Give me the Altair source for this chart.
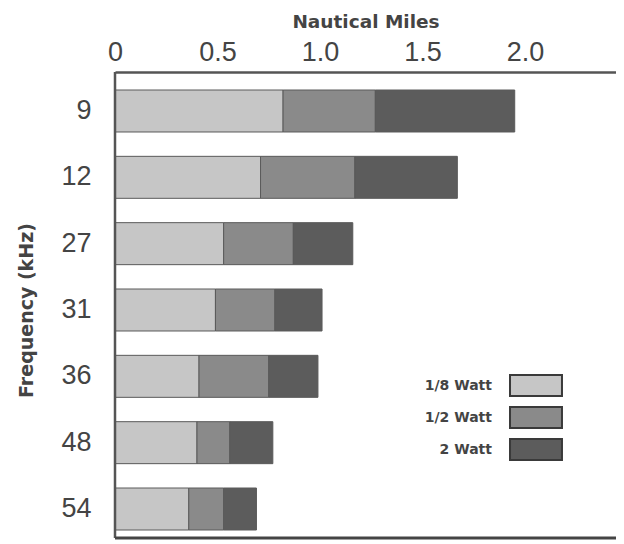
import altair as alt
import pandas as pd

freqs = ["9", "12", "27", "31", "36", "48", "54"]
powers = ["1/8 Watt", "1/2 Watt", "2 Watt"]
# cumulative range (nautical miles) reached with each power level
range_eighth = [0.82, 0.71, 0.53, 0.49, 0.41, 0.40, 0.36]
range_half = [1.27, 1.17, 0.87, 0.78, 0.75, 0.56, 0.53]
range_two = [1.95, 1.67, 1.16, 1.01, 0.99, 0.77, 0.69]
x_ticks = [0, 0.5, 1.0, 1.5, 2.0]
colors = ["#c6c6c6", "#8a8a8a", "#5c5c5c"]

rows = []
for i, f in enumerate(freqs):
    ends = [range_eighth[i], range_half[i], range_two[i]]
    start = 0.0
    for p, e in zip(powers, ends):
        rows.append({"freq": f, "power": p, "start": start, "end": e})
        start = e
df = pd.DataFrame(rows)

W, H = 501, 466
FONT = "Liberation Sans"
TFONT = "DejaVu Sans"
TXT = "#444444"

bars = alt.Chart(df).mark_bar(stroke="#5a5a5a", strokeWidth=1).encode(
    x=alt.X(
        "start:Q",
        scale=alt.Scale(domain=[0, 2.444], nice=False, zero=True),
        axis=alt.Axis(
            orient="top", values=x_ticks, title="Nautical Miles",
            labelExpr="datum.value == 0 ? '0' : format(datum.value, '.1f')",
            labelFlush=False,
            grid=False, ticks=False, domainColor="#555555", domainWidth=2.5,
            labelFontSize=27, labelColor=TXT, labelPadding=6, labelFont=FONT,
            titleFontSize=18.5, titleFontWeight="bold", titleColor=TXT,
            titlePadding=7, titleFont=TFONT,
        ),
    ),
    x2="end:Q",
    y=alt.Y(
        "freq:N", sort=freqs,
        scale=alt.Scale(range=[18, 458], paddingInner=0.367, paddingOuter=0),
        axis=alt.Axis(
            title="Frequency (kHz)", domain=False, ticks=False, grid=False,
            labelFontSize=27, labelColor=TXT, labelPadding=24, labelFont=FONT,
            titleFontSize=19, titleFontWeight="bold", titleColor=TXT,
            titlePadding=24, titleFont=TFONT,
        ),
    ),
    color=alt.Color(
        "power:N", sort=powers,
        scale=alt.Scale(domain=powers, range=colors),
        legend=alt.Legend(
            title=None, orient="none", legendX=354, legendY=302,
            direction="vertical",
            symbolType="M2.81,-1H7.76V1H2.81Z", symbolSize=441,
            symbolStrokeColor="#3a3a3a", symbolStrokeWidth=2,
            symbolOpacity=1, symbolOffset=0,
            labelOffset=0, labelAlign="right", labelFontSize=14,
            labelFontWeight="bold", labelColor=TXT, labelFont=TFONT,
            rowPadding=3,
        ),
    ),
)

frame_df = pd.DataFrame({"k": [0]})
left_rule = alt.Chart(frame_df).mark_rule(color="#555555", strokeWidth=2.5).encode(
    x=alt.value(0), y=alt.value(0), y2=alt.value(H)
)
bottom_rule = alt.Chart(frame_df).mark_rule(color="#444444", strokeWidth=3).encode(
    x=alt.value(0), x2=alt.value(W), y=alt.value(H)
)

chart = alt.layer(bars, left_rule, bottom_rule).properties(
    width=W, height=H,
    autosize=alt.AutoSizeParams(type="none"),
    padding={"left": 107, "top": 64, "right": 0, "bottom": 4},
).configure_view(stroke="transparent")

chart.save("out.html", embed_options={"renderer": "svg", "actions": False})
